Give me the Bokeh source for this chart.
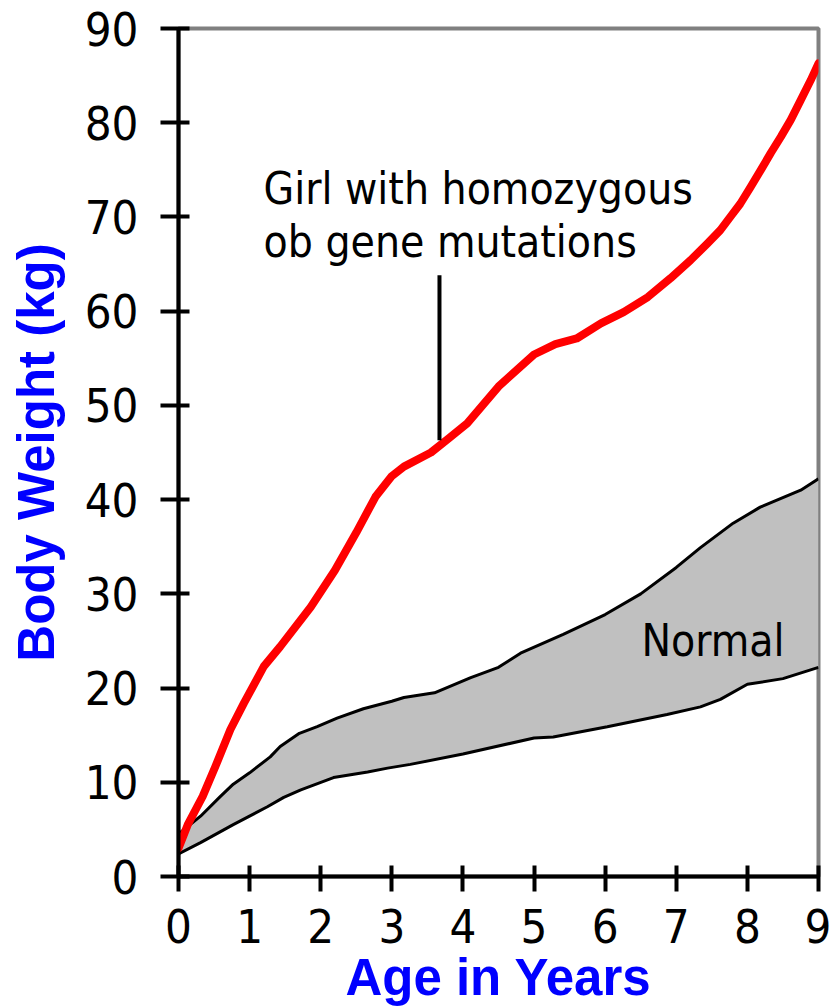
from bokeh.plotting import figure
from bokeh.models import Label, Range1d, FixedTicker
from bokeh.embed import file_html
from bokeh.resources import INLINE

# ---- data ----
girl_age = [0.0, 0.13, 0.34, 0.52, 0.73, 0.92, 1.2, 1.43, 1.86, 2.2, 2.5, 2.77, 3.0, 3.17,
            3.55, 3.8, 4.06, 4.5, 5.0, 5.3, 5.6, 5.94, 6.26, 6.6, 6.92, 7.2, 7.44, 7.62, 7.76,
            7.9, 8.04, 8.19, 8.33, 8.47, 8.61, 8.75, 8.89, 9.0]
girl_weight = [3.0, 5.5, 8.5, 11.7, 15.6, 18.4, 22.3, 24.4, 28.6, 32.5, 36.5, 40.3, 42.5, 43.5,
               45.0, 46.5, 48.1, 52.0, 55.4, 56.5, 57.1, 58.7, 59.9, 61.5, 63.5, 65.4, 67.2, 68.6, 70.0,
               71.4, 73.1, 75.0, 76.8, 78.5, 80.3, 82.4, 84.5, 86.3]

normal_upper_age = [0.0, 0.31, 0.59, 0.77, 1.0, 1.29, 1.43, 1.7, 1.95, 2.23, 2.6, 3.0, 3.17,
                    3.6, 4.11, 4.5, 4.81, 5.41, 6.0, 6.5, 7.0, 7.34, 7.8, 8.18, 8.75, 9.0]
normal_upper_weight = [4.5, 6.4, 8.5, 9.8, 11.0, 12.7, 13.8, 15.2, 15.9, 16.8, 17.8, 18.6, 19.0,
                       19.5, 21.1, 22.2, 23.7, 25.7, 27.8, 30.0, 32.8, 34.9, 37.5, 39.2, 41.0, 42.2]

normal_lower_age = [0.0, 0.31, 0.77, 1.25, 1.48, 1.72, 2.18, 2.66, 2.94, 3.26, 4.0, 5.0, 5.27,
                    6.03, 6.87, 7.34, 7.62, 8.0, 8.5, 9.0]
normal_lower_weight = [2.4, 3.6, 5.5, 7.4, 8.4, 9.2, 10.5, 11.1, 11.5, 11.9, 13.0, 14.7, 14.8,
                       15.9, 17.2, 18.0, 18.8, 20.4, 21.0, 22.2]

x_ticks = [0, 1, 2, 3, 4, 5, 6, 7, 8, 9]
y_ticks = [0, 10, 20, 30, 40, 50, 60, 70, 80, 90]

annotation_lines = ["Girl with homozygous", "ob gene mutations"]
normal_text = "Normal"
x_title = "Age in Years"
y_title = "Body Weight (kg)"
pointer_age = 3.67
pointer_weight = [63.8, 46.3]

NARROW = "'Liberation Sans Narrow', 'DejaVu Sans Condensed', 'Arial Narrow', sans-serif"
BOLD = "'Liberation Sans', Arial, sans-serif"
BLUE = "#0000FF"

p = figure(width=831, height=1008, x_range=Range1d(0, 9), y_range=Range1d(0, 90),
           output_backend="svg", toolbar_location=None,
           min_border_left=178, min_border_right=13, min_border_top=28, min_border_bottom=131)

p.background_fill_color = "white"
p.border_fill_color = "white"
p.outline_line_color = "#808080"
p.outline_line_width = 4
p.xgrid.grid_line_color = None
p.ygrid.grid_line_color = None

for ax in (p.xaxis, p.yaxis):
    ax.axis_line_color = "black"
    ax.axis_line_width = 4
    ax.major_tick_line_color = "black"
    ax.major_tick_line_width = 4
    ax.minor_tick_line_color = None
    ax.major_label_text_font = NARROW
    ax.major_label_text_font_size = "47px"
    ax.major_label_text_color = "black"
    ax.axis_label_text_font = BOLD
    ax.axis_label_text_font_style = "bold"
    ax.axis_label_text_font_size = "51px"
    ax.axis_label_text_color = BLUE

p.xaxis.ticker = FixedTicker(ticks=x_ticks)
p.xaxis.major_tick_in = 11
p.xaxis.major_tick_out = 15
p.xaxis.major_label_standoff = 17
p.xaxis.axis_label = x_title
p.xaxis.axis_label_standoff = 3

p.yaxis.ticker = FixedTicker(ticks=y_ticks)
p.yaxis.major_tick_in = 11
p.yaxis.major_tick_out = 18
p.yaxis.major_label_standoff = 22
p.yaxis.axis_label = y_title
p.yaxis.axis_label_standoff = 17

# normal band
band_x = normal_upper_age + normal_lower_age[::-1]
band_y = normal_upper_weight + normal_lower_weight[::-1]
p.patch(band_x, band_y, fill_color="#C0C0C0", line_color=None)
p.line(normal_upper_age, normal_upper_weight, line_color="black", line_width=3)
p.line(normal_lower_age, normal_lower_weight, line_color="black", line_width=3)

# girl curve
p.line(girl_age, girl_weight, line_color="#FF0000", line_width=8, line_join="round", line_cap="round")

# pointer line
p.line([pointer_age, pointer_age], pointer_weight, line_color="black", line_width=4)

# annotations
p.add_layout(Label(x=1.195, y=73.0, text=annotation_lines[0], text_font=NARROW,
                   text_font_size="44px", text_color="black", text_baseline="alphabetic"))
p.add_layout(Label(x=1.195, y=67.4, text=annotation_lines[1], text_font=NARROW,
                   text_font_size="44px", text_color="black", text_baseline="alphabetic"))
p.add_layout(Label(x=6.51, y=25.1, text=normal_text, text_font=NARROW,
                   text_font_size="44px", text_color="black", text_baseline="alphabetic"))

open("out.html", "w").write(file_html(p, INLINE))
